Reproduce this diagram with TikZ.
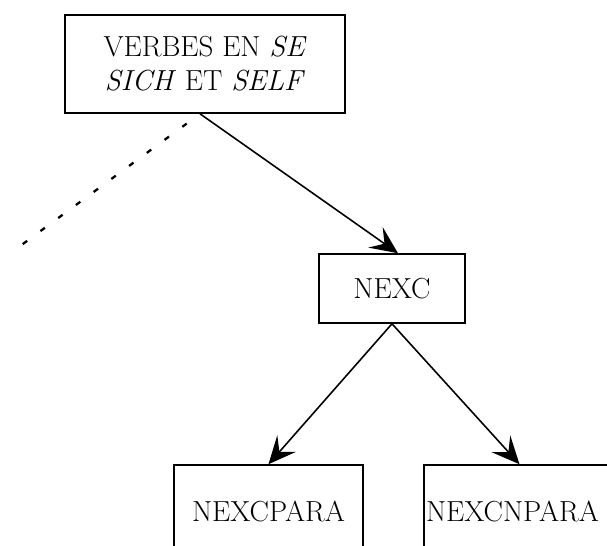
\documentclass[tikz,border=0pt]{standalone}
\usepackage{amsmath,amssymb}
\usepackage{tikz}
\usetikzlibrary{arrows.meta,positioning}

\begin{document}
\begin{tikzpicture}[every node/.style={font=\fontsize{16.5}{19.4}\selectfont},
    box/.style={draw, rectangle, line width=0.9pt, inner sep=0pt, align=center},
    link/.style={line width=0.9pt, -{Stealth[length=0.55cm, width=0.5cm, inset=0.22cm]}}]
    % Frame
    \useasboundingbox (0,0) rectangle (12.14,10.9);
    \clip (0,0) rectangle (12.14,10.9);
    % Root
    \node[box, minimum width=5.6cm, minimum height=1.96cm] (verbes) at (4.1,9.62) {VERBES EN \textit{SE}\\ \textit{SICH} ET \textit{SELF}};
    % Middle
    \node[box, minimum width=2.92cm, minimum height=1.38cm] (nexc) at (7.84,5.13) {NEXC};
    % Leaves
    \node[box, minimum width=3.78cm, minimum height=1.84cm] (para) at (5.37,0.68) {NEXCPARA};
    \node[box, minimum width=3.82cm, minimum height=1.84cm, text width=3.74cm, align=left] (npara) at (10.39,0.68) {NEXCNPARA};
    % Links
    \coordinate (split) at ([xshift=-0.1cm]verbes.south);
    \coordinate (lost) at (0.24,5.86);
    \draw[link] (split) -- ([xshift=0.12cm]nexc.north);
    \draw[line width=1.3pt, dash pattern=on 0.11cm off 0.33cm, dash phase=0.11cm] (split) -- (lost);
    \draw[link] (nexc.south) -- (para.north);
    \draw[link] (nexc.south) -- (npara.north);
\end{tikzpicture}
\end{document}
